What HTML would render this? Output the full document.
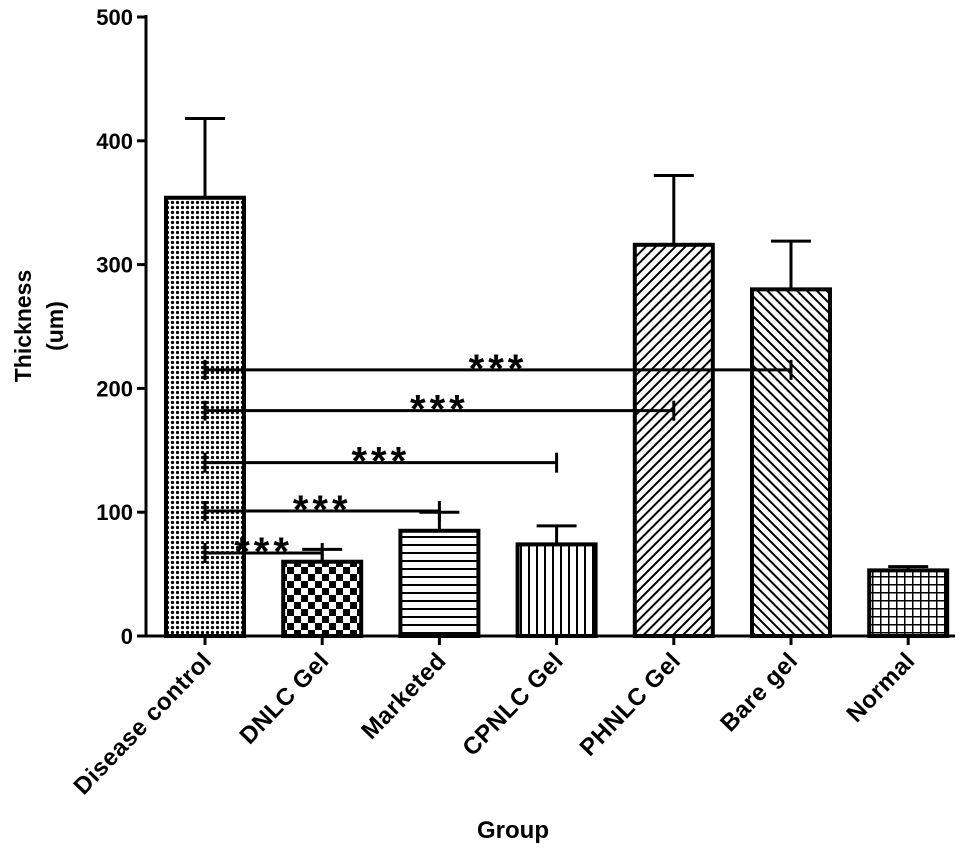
<!DOCTYPE html>
<html><head><meta charset="utf-8"><style>body{margin:0;background:#fff}svg{display:block;font-family:"Liberation Sans",sans-serif;font-weight:bold}</style></head>
<body>
<svg id="chart" width="975" height="851" viewBox="0 0 975 851">
<defs>
<pattern id="p0" width="5" height="5" patternUnits="userSpaceOnUse"><rect width="5" height="5" fill="#fff"/><circle cx="2.5" cy="2.5" r="1.6" fill="#000"/></pattern>
<pattern id="p1" width="14" height="14" patternUnits="userSpaceOnUse"><rect width="14" height="14" fill="#fff"/><rect width="7" height="7" fill="#000"/><rect x="7" y="7" width="7" height="7" fill="#000"/></pattern>
<pattern id="p2" width="8" height="8" patternUnits="userSpaceOnUse"><rect width="8" height="8" fill="#fff"/><rect y="0" width="8" height="2" fill="#000"/></pattern>
<pattern id="p3" width="8" height="8" patternUnits="userSpaceOnUse"><rect width="8" height="8" fill="#fff"/><rect x="0" width="2" height="8" fill="#000"/></pattern>
<pattern id="p4" width="7" height="7" patternUnits="userSpaceOnUse" patternTransform="rotate(45)"><rect width="7" height="7" fill="#fff"/><rect width="2" height="7" fill="#000"/></pattern>
<pattern id="p5" width="7" height="7" patternUnits="userSpaceOnUse" patternTransform="rotate(-45)"><rect width="7" height="7" fill="#fff"/><rect width="2" height="7" fill="#000"/></pattern>
<pattern id="p6" width="8" height="8" patternUnits="userSpaceOnUse"><rect width="8" height="8" fill="#fff"/><rect width="8" height="1.5" fill="#000"/><rect width="1.5" height="8" fill="#000"/></pattern>
</defs>
<g id="g"></g>
</svg>
<script>
const categories=["Disease control","DNLC Gel","Marketed","CPNLC Gel","PHNLC Gel","Bare gel","Normal"];
const means=[354,60,85,74,316,280,53];
const errs=[64,10,15,15,56,39,3];
const yTicks=[0,100,200,300,400,500];
const compareTargets=[1,2,3,4,5];
const compareHeights=[67,101,140,182,215];
const NS="http://www.w3.org/2000/svg";
const g=document.getElementById('g');
const x0=205,step=117.2,bw=78;
const yS=v=>636-v*1.238;
const xS=i=>x0+i*step;
function mk(t,a,p){const e=document.createElementNS(NS,t);for(const k in a)e.setAttribute(k,a[k]);(p||g).appendChild(e);return e;}
let ax=mk('line',{x1:146,y1:yS(0)+1,x2:146,y2:yS(500)-2,stroke:'#000','stroke-width':3});


yTicks.forEach(v=>{
 let t=mk('line',{x1:137,x2:146,y1:yS(v),y2:yS(v),stroke:'#000','stroke-width':3});
 
 
 let l=mk('text',{x:133,y:yS(v)+8,'text-anchor':'end','font-size':22});
 l.textContent=v;
 
 
});
let xa=mk('line',{x1:146,x2:955,y1:yS(0),y2:yS(0),stroke:'#000','stroke-width':3});


categories.forEach((c,i)=>{
 const cx=xS(i),top=yS(means[i]),et=yS(means[i]+errs[i]);
 let el=mk('line',{x1:cx,x2:cx,y1:top,y2:et,stroke:'#000','stroke-width':3});
 
 
 let cap=mk('line',{x1:cx-20,x2:cx+20,y1:et,y2:et,stroke:'#000','stroke-width':3});
 
 
 let b=mk('rect',{x:cx-bw/2,y:top,width:bw,height:yS(0)-top,fill:'url(#p'+i+')',stroke:'#000','stroke-width':4});
 
 
 let tk=mk('line',{x1:cx,x2:cx,y1:yS(0),y2:yS(0)+9,stroke:'#000','stroke-width':3});
 
 
 let l=mk('text',{x:cx+8,y:yS(0)+26,'text-anchor':'end','font-size':24,'letter-spacing':0.5,transform:`rotate(-46 ${cx+8} ${yS(0)+26})`});
 l.textContent=c;
 
 
});
compareTargets.forEach((ti,k)=>{
 const y=yS(compareHeights[k]),xa=xS(0),xb=xS(ti);
 let ln=mk('line',{x1:xa,x2:xb,y1:y,y2:y,stroke:'#000','stroke-width':3});
 
 
 [xa,xb].forEach(xx=>{let e=mk('line',{x1:xx,x2:xx,y1:y-10,y2:y+10,stroke:'#000','stroke-width':3});
  
  });
 let s=mk('text',{x:(xa+xb)/2,y:y+12,'text-anchor':'middle','font-size':40,'letter-spacing':4});
 s.textContent='***';
 
 
});
let yt=mk('text',{x:0,y:0,'text-anchor':'middle','font-size':23,transform:'translate(35 326) rotate(-90)'});


let t1=mk('tspan',{x:0,dy:-4},yt);t1.textContent='Thickness';
let t2=mk('tspan',{x:0,dy:32},yt);t2.textContent='(um)';
let xt=mk('text',{x:513,y:838,'text-anchor':'middle','font-size':24});
xt.textContent='Group';


</script>
</body></html>
